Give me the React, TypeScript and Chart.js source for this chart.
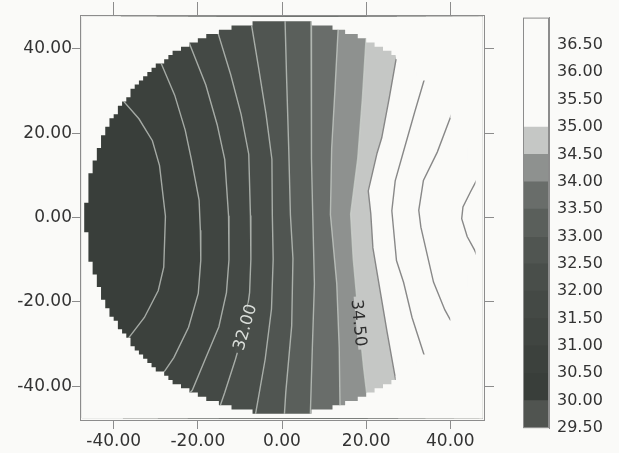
import React, { useEffect, useRef } from 'react';
import { Chart, registerables } from 'chart.js';

Chart.register(...registerables);

// ---- axes ----
const AXIS_MIN = -48;
const AXIS_MAX = 48;
const AXIS_TICKS = [-40, -20, 0, 20, 40];

// ---- measured disk ----
const DISK_RADIUS = 46.6;
const DISK_CELL = 1.0;

// ---- contour lines (x, y), listed from top to bottom ----
const CONTOUR_LEVELS = [30.5, 31.0, 31.5, 32.0, 32.5, 33.0, 33.5, 34.0, 34.5, 35.0, 35.5, 36.0, 36.5];

const C30_5 = [[-38.3, 28.3], [-34.0, 23.4], [-30.8, 18.2], [-29.1, 12.3], [-27.7, 0.3], [-28.1, -11.8], [-29.4, -17.3], [-32.7, -23.7], [-37.8, -30.3]];
const C31_0 = [[-29.8, 37.8], [-28.7, 36.5], [-25.5, 29.0], [-23.0, 20.7], [-21.5, 13.6], [-19.7, 4.1], [-19.4, -3.0], [-19.3, -10.1], [-19.9, -18.0], [-22.2, -26.0], [-25.7, -33.2], [-27.8, -36.3], [-29.5, -38.0]];
const C31_5 = [[-22.3, 42.0], [-18.1, 31.4], [-15.4, 22.0], [-13.6, 13.7], [-12.7, 0.4], [-12.6, -10.0], [-13.2, -17.8], [-15.0, -25.9], [-18.3, -33.7], [-21.3, -40.9], [-22.4, -42.2]];
const C32_0 = [[-15.6, 45.0], [-12.2, 33.9], [-9.7, 24.4], [-7.9, 15.0], [-7.5, 0.5], [-7.4, -9.9], [-7.7, -17.8], [-8.8, -25.8], [-11.1, -33.7], [-13.6, -41.5], [-15.0, -45.5]];
const C32_5 = [[-7.5, 47.2], [-5.5, 35.1], [-3.8, 24.5], [-2.4, 13.8], [-2.3, 0.6], [-2.1, -9.9], [-2.5, -21.7], [-4.0, -33.6], [-5.8, -43.8], [-6.5, -47.8]];
const C33_0 = [[0.7, 47.6], [1.1, 32.8], [1.6, 16.3], [2.0, 0.6], [2.6, -9.7], [2.3, -25.7], [0.9, -41.4], [0.5, -47.8]];
const C33_5 = [[6.9, 47.2], [6.9, 28.2], [7.1, 14.0], [7.3, 0.7], [7.7, -15.7], [7.2, -31.1], [6.7, -47.7]];
const C34_0 = [[13.4, 45.8], [12.6, 30.6], [11.8, 16.4], [11.5, 0.7], [13.0, -15.6], [13.6, -31.0], [13.8, -46.4]];
const C34_5 = [[20.1, 44.5], [19.1, 28.3], [18.0, 14.1], [16.3, 0.8], [16.9, -9.6], [18.3, -25.0], [19.4, -35.7], [20.4, -44.0]];
const C35_0 = [[27.3, 38.6], [25.5, 28.4], [23.7, 18.9], [22.6, 15.3], [20.5, 6.3], [21.1, 0.9], [21.6, -7.2], [23.0, -15.5], [25.0, -27.3], [27.0, -38.4], [27.6, -39.2]];
const C35_5 = [[34.2, 34.0], [31.5, 24.9], [28.8, 15.4], [26.9, 8.7], [26.1, 1.6], [27.2, -10.2], [28.9, -15.4], [30.9, -23.7], [34.1, -33.6]];
const C36_0 = [[40.5, 25.0], [36.9, 15.5], [33.6, 8.8], [32.5, 1.7], [33.0, -2.3], [34.8, -10.1], [36.0, -15.3], [38.7, -21.9], [40.9, -25.9]];
const C36_5 = [[46.7, 9.7], [44.8, 6.1], [43.0, 2.5], [42.7, -0.3], [44.0, -4.5], [45.7, -7.6], [46.9, -10.5]];

const CONTOURS = [C30_5, C31_0, C31_5, C32_0, C32_5, C33_0, C33_5, C34_0, C34_5, C35_0, C35_5, C36_0, C36_5];

// ---- colour bands ----
const BAND_EDGES = [29.5, 30.0, 30.5, 31.0, 31.5, 32.0, 32.5, 33.0, 33.5, 34.0, 34.5, 35.0, 35.5, 36.0, 36.5, 37.0];
const COLORBAR_TICKS = [29.5, 30.0, 30.5, 31.0, 31.5, 32.0, 32.5, 33.0, 33.5, 34.0, 34.5, 35.0, 35.5, 36.0, 36.5];
const FIELD_FLOOR = 30.0;

// ---- labelled contours ----
const LABELLED_LEVELS = [32.0, 34.5];
const LABEL_AT_Y = [-26.0, -25.0];
const LABEL_READS_UP = [true, false];

// ---- styles ----
const PAGE_BG = '#fafaf8';
const BAND_COLORS = [
  '#505450', '#393e3a', '#3c413d', '#404541', '#444945', '#494e4a', '#505551',
  '#5a5f5b', '#696d6a', '#8e918f', '#c5c7c5', PAGE_BG, PAGE_BG, PAGE_BG, PAGE_BG,
];
const FRAME = '#8c8c8c';
const TEXT = '#333333';
const FONT = 'DejaVu Sans';
const LABEL_TEXT = ['#dadeda', '#2e2e2e'];

const bandColor = (level: number) => {
  let idx = 0;
  for (let i = 0; i < BAND_EDGES.length - 1; i++) {
    if (level >= BAND_EDGES[i] - 1e-9) idx = i;
  }
  return BAND_COLORS[idx];
};

type Px = (v: number) => number;

// Outline of the sampled disk: rows of grid cells whose width follows the radius.
function traceDisk(ctx: CanvasRenderingContext2D, sx: Px, sy: Px, fresh = true) {
  const R = DISK_RADIUS;
  const g = DISK_CELL;
  const n = Math.floor(R / g);
  const rows: { top: number; bottom: number; w: number }[] = [];
  for (let j = n; j >= -n; j--) {
    const yc = j * g;
    const half = Math.sqrt(Math.max(R * R - yc * yc, 0));
    const w = Math.max(1, Math.round(half / g)) * g;
    rows.push({ top: yc + g / 2, bottom: yc - g / 2, w });
  }
  if (fresh) ctx.beginPath();
  rows.forEach((r, i) => {
    if (i === 0) ctx.moveTo(sx(r.w), sy(r.top));
    else ctx.lineTo(sx(r.w), sy(r.top));
    ctx.lineTo(sx(r.w), sy(r.bottom));
  });
  for (let i = rows.length - 1; i >= 0; i--) {
    ctx.lineTo(sx(-rows[i].w), sy(rows[i].bottom));
    ctx.lineTo(sx(-rows[i].w), sy(rows[i].top));
  }
  ctx.closePath();
}

const FAR = 70;
const BOX = 47.6;

const fieldPlugin = {
  id: 'field',
  beforeDatasetsDraw(chart: any) {
    const { ctx, scales } = chart;
    const sx: Px = (v) => scales.x.getPixelForValue(v);
    const sy: Px = (v) => scales.y.getPixelForValue(v);
    const boxRect = () => ctx.rect(sx(-BOX), sy(BOX), sx(BOX) - sx(-BOX), sy(-BOX) - sy(BOX));
    ctx.save();
    ctx.beginPath();
    boxRect();
    ctx.clip();
    ctx.fillStyle = bandColor(FIELD_FLOOR);
    ctx.fillRect(sx(-BOX), sy(BOX), sx(BOX) - sx(-BOX), sy(-BOX) - sy(BOX));
    // each contour paints the band above it over everything on its right
    CONTOURS.forEach((pts, i) => {
      ctx.beginPath();
      ctx.moveTo(sx(pts[0][0]), sy(FAR));
      pts.forEach(([x, y]) => ctx.lineTo(sx(x), sy(y)));
      ctx.lineTo(sx(pts[pts.length - 1][0]), sy(-FAR));
      ctx.lineTo(sx(FAR), sy(-FAR));
      ctx.lineTo(sx(FAR), sy(FAR));
      ctx.closePath();
      ctx.fillStyle = bandColor(CONTOUR_LEVELS[i]);
      ctx.fill();
    });
    // blank everything outside the disk
    ctx.beginPath();
    boxRect();
    traceDisk(ctx, sx, sy, false);
    ctx.fillStyle = PAGE_BG;
    ctx.fill('evenodd');
    ctx.restore();
  },
  beforeDatasetDraw(chart: any) {
    const { ctx, scales } = chart;
    ctx.save();
    traceDisk(ctx, (v) => scales.x.getPixelForValue(v), (v) => scales.y.getPixelForValue(v));
    ctx.clip();
  },
  afterDatasetDraw(chart: any) {
    chart.ctx.restore();
  },
  afterDatasetsDraw(chart: any) {
    const { ctx, scales } = chart;
    const sx: Px = (v) => scales.x.getPixelForValue(v);
    const sy: Px = (v) => scales.y.getPixelForValue(v);
    LABELLED_LEVELS.forEach((level, k) => {
      const pts = CONTOURS[CONTOUR_LEVELS.indexOf(level)];
      const yL = LABEL_AT_Y[k];
      let seg = 0;
      for (let i = 0; i < pts.length - 1; i++) {
        if (pts[i][1] >= yL && pts[i + 1][1] <= yL) { seg = i; break; }
      }
      const a = pts[seg];
      const b = pts[seg + 1];
      const t = (a[1] - yL) / (a[1] - b[1]);
      const xL = a[0] + (b[0] - a[0]) * t;
      let ang = Math.atan2(sy(b[1]) - sy(a[1]), sx(b[0]) - sx(a[0]));
      if (LABEL_READS_UP[k]) ang += Math.PI;
      const text = level.toFixed(2);
      ctx.save();
      ctx.translate(sx(xL), sy(yL));
      ctx.rotate(ang);
      ctx.font = `16.5px "${FONT}"`;
      const w = ctx.measureText(text).width;
      ctx.fillStyle = bandColor(level);
      ctx.fillRect(-w / 2 - 3, -3, w + 6, 6);
      ctx.fillStyle = LABEL_TEXT[k];
      ctx.textAlign = 'center';
      ctx.textBaseline = 'middle';
      ctx.fillText(text, 0, 1);
      ctx.restore();
    });
  },
};

const edgeScale = (position: string, labels: boolean, tickLength: number, size: { w?: number; h?: number }) => ({
  type: 'linear',
  position,
  min: AXIS_MIN,
  max: AXIS_MAX,
  afterBuildTicks: (s: any) => {
    s.ticks = AXIS_TICKS.map((v) => ({ value: v }));
  },
  afterFit: (s: any) => {
    if (size.w !== undefined) s.width = size.w;
    if (size.h !== undefined) s.height = size.h;
  },
  ticks: {
    display: labels,
    color: TEXT,
    padding: position === 'bottom' ? 2 : 0,
    font: { family: FONT, size: 17 },
    callback: (v: any) => Number(v).toFixed(2),
  },
  grid: { display: true, drawOnChartArea: false, drawTicks: true, tickLength, color: FRAME, lineWidth: 1 },
  border: { display: true, color: FRAME, width: 1 },
});

const lineColor = (level: number) => (level >= 35 ? 'rgba(130,130,130,0.95)' : 'rgba(205,210,205,0.72)');

export default function App() {
  const mapRef = useRef<HTMLCanvasElement>(null);
  const barRef = useRef<HTMLCanvasElement>(null);

  useEffect(() => {
    const map = new Chart(mapRef.current as HTMLCanvasElement, {
      type: 'scatter',
      data: {
        datasets: CONTOURS.map((pts, i) => ({
          label: CONTOUR_LEVELS[i].toFixed(2),
          data: pts.map(([x, y]) => ({ x, y })),
          showLine: true,
          pointRadius: 0,
          borderColor: lineColor(CONTOUR_LEVELS[i]),
          borderWidth: 1.4,
          tension: 0,
          fill: false,
        })),
      },
      options: {
        responsive: false,
        animation: false,
        devicePixelRatio: 1,
        layout: { padding: 0 },
        plugins: { legend: { display: false }, tooltip: { enabled: false } },
        events: [],
        scales: {
          x: edgeScale('bottom', true, 9, { h: 33 }),
          x2: edgeScale('top', false, 13, { h: 15 }),
          y: edgeScale('left', true, 8, { w: 80 }),
          y2: edgeScale('right', false, 10, { w: 16 }),
        } as any,
      },
      plugins: [fieldPlugin],
    } as any);

    const framePlugin = {
      id: 'barFrame',
      afterDraw(chart: any) {
        const { ctx, chartArea } = chart;
        ctx.save();
        ctx.strokeStyle = FRAME;
        ctx.lineWidth = 1;
        ctx.strokeRect(chartArea.left + 0.5, chartArea.top + 0.5, chartArea.width - 1, chartArea.height - 1);
        ctx.restore();
      },
    };

    const bar = new Chart(barRef.current as HTMLCanvasElement, {
      type: 'bar',
      data: {
        labels: [''],
        datasets: BAND_COLORS.map((c, i) => ({
          data: [[BAND_EDGES[i], BAND_EDGES[i + 1]]],
          backgroundColor: c,
          borderWidth: 0,
          grouped: false,
          barPercentage: 1,
          categoryPercentage: 1,
        })),
      },
      options: {
        responsive: false,
        animation: false,
        devicePixelRatio: 1,
        events: [],
        layout: { padding: { left: 23, top: 10, bottom: 25, right: 0 } },
        plugins: { legend: { display: false }, tooltip: { enabled: false } },
        scales: {
          x: { display: false },
          y: {
            position: 'right',
            min: BAND_EDGES[0],
            max: BAND_EDGES[BAND_EDGES.length - 1],
            z: 1,
            afterBuildTicks: (s: any) => {
              s.ticks = COLORBAR_TICKS.map((v) => ({ value: v }));
            },
            afterFit: (s: any) => {
              s.width = 70;
            },
            ticks: {
              color: TEXT,
              padding: 8,
              font: { family: FONT, size: 16 },
              callback: (v: any) => Number(v).toFixed(2),
            },
            grid: {
              display: true,
              drawOnChartArea: true,
              drawTicks: false,
              color: (c: any) => (c.tick && c.tick.value >= 35 ? '#a4a4a4' : 'rgba(190,196,190,0.35)'),
            },
            border: { display: true, color: FRAME },
          },
        } as any,
      },
      plugins: [framePlugin],
    } as any);

    return () => {
      map.destroy();
      bar.destroy();
    };
  }, []);

  return (
    <div style={{ position: 'fixed', left: 0, top: 0, width: 619, height: 453, background: PAGE_BG, overflow: 'hidden' }}>
      <canvas ref={mapRef} width={500} height={453} style={{ position: 'absolute', left: 0, top: 0 }} />
      <canvas ref={barRef} width={119} height={453} style={{ position: 'absolute', left: 500, top: 0 }} />
    </div>
  );
}
